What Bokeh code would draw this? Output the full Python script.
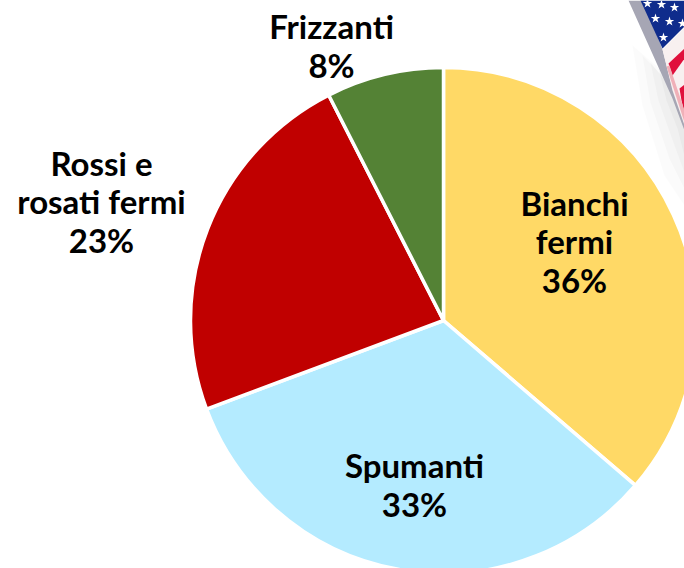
import math
from bokeh.plotting import figure
from bokeh.models import ColumnDataSource
from bokeh.core.properties import value
from bokeh.embed import file_html
from bokeh.resources import INLINE

categories = ["Bianchi\nfermi", "Spumanti", "Rossi e\nrosati fermi", "Frizzanti"]
shares = [36.3, 33.0, 23.2, 7.5]
percent_labels = ["36%", "33%", "23%", "8%"]
colors = ["#FFD966", "#B4EBFF", "#C00000", "#548235"]

W, H = 684, 568
CX, CY, R = 443, 320, 253

def X(px): return px
def Y(py): return H - py
def XS(a): return [X(v) for v in a]
def YS(a): return [Y(v) for v in a]

p = figure(width=W, height=H, x_range=(0, W), y_range=(0, H),
           output_backend="svg", toolbar_location=None, min_border=0)
p.axis.visible = False
p.grid.visible = False
p.outline_line_color = None

# soft shadow of the flag picture
for pts, a in [
    (([632, 684, 684, 664, 642], [45, 90, 205, 175, 105]), 0.03),
    (([642, 684, 684, 669, 650], [55, 98, 188, 158, 102]), 0.04),
    (([650, 684, 684, 673, 658], [62, 104, 172, 142, 100]), 0.05),
    (([658, 684, 684, 677, 666], [68, 110, 156, 128, 100]), 0.06),
]:
    p.patch(XS(pts[0]), YS(pts[1]), fill_color="#808080", fill_alpha=a, line_color=None)

# flag picture in the corner
p.patch(XS([628, 643, 662, 672, 684, 684, 672]), YS([0, 0, 49, 88, 120, 130, 98]), fill_color="#A6A6B4", line_color=None)
p.patch(XS([662, 684, 684, 672]), YS([49, 27, 125, 90]), fill_color="#F8F0F0", line_color=None)
p.patch(XS([640, 684, 684, 662]), YS([0, 0, 26, 48]), fill_color="#0F2C8C", line_color=None)
p.patch(XS([668, 684, 684, 672]), YS([63, 48, 58, 75]), fill_color="#E0103C", line_color=None)
p.patch(XS([679, 684, 684, 681]), YS([88, 84, 113, 100]), fill_color="#E0103C", line_color=None)
p.patch(XS([666, 669, 684, 684]), YS([66, 65, 110, 122]), fill_color="#F0B0B8", line_color=None)
p.scatter(XS([647, 661, 674, 655, 669, 682, 663]), YS([3, 4, 7, 18, 21, 23, 37]),
          marker="star", size=10, fill_color="white", line_color=None)

# pie
total = sum(shares)
starts, ends, acc = [], [], 0.0
for s in shares:
    starts.append(math.pi / 2 - 2 * math.pi * acc / total)
    acc += s
    ends.append(math.pi / 2 - 2 * math.pi * acc / total)
src = ColumnDataSource(dict(start=starts, end=ends, color=colors))
p.wedge(x=X(CX), y=Y(CY), radius=R, start_angle="start", end_angle="end",
        direction="clock", fill_color="color", line_color="white", line_width=3.5, source=src)

# labels
label_x = [574, 414, 101, 331]
label_y = [241, 484, 201, 45]
texts = [c + "\n" + t for c, t in zip(categories, percent_labels)]
p.text(x=XS(label_x), y=YS(label_y), text=texts,
       text_font=value("Lato"), text_font_style="bold", text_font_size="33px",
       text_color="black", text_align="center", text_baseline="middle", text_line_height=0.97)

open("out.html", "w").write(file_html(p, INLINE))
